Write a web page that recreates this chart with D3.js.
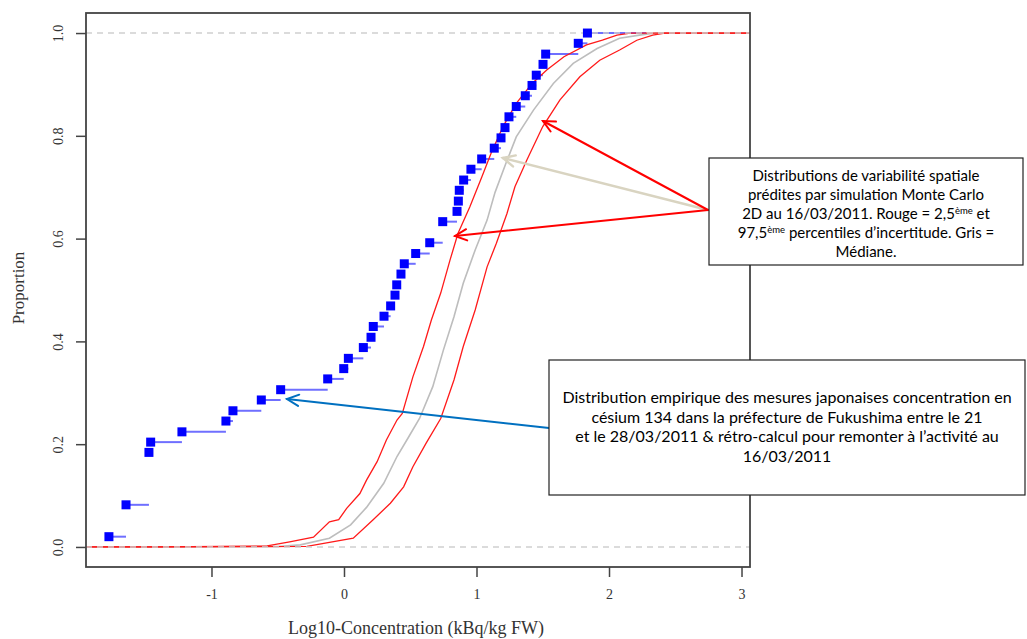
<!DOCTYPE html>
<html><head><meta charset="utf-8">
<script src="https://cdn.jsdelivr.net/npm/d3@7"></script>
<style>body{margin:0;background:#fff} svg{display:block}</style>
</head><body><svg id="c" width="1027" height="639"></svg>
<script>
// ---------- data ----------
const xTicks = [-1, 0, 1, 2, 3];
const xTickLabels = ["-1", "0", "1", "2", "3"];
const yTicks = [0, 0.2, 0.4, 0.6, 0.8, 1.0];
const yTickLabels = ["0.0", "0.2", "0.4", "0.6", "0.8", "1.0"];
const xTitle = "Log10-Concentration (kBq/kg FW)";
const yTitle = "Proportion";

// empirical ECDF (observed Japanese measurements)
const empX = [-1.774, -1.645, -1.472, -1.459, -1.223, -0.891, -0.838, -0.624, -0.478, -0.123,
              -0.002, 0.033, 0.146, 0.204, 0.221, 0.302, 0.352, 0.385, 0.398, 0.430,
              0.455, 0.541, 0.647, 0.745, 0.853, 0.863, 0.870, 0.903, 0.958, 1.039,
              1.134, 1.185, 1.215, 1.245, 1.300, 1.368, 1.419, 1.451, 1.502, 1.522,
              1.768, 1.837];
const empP = [0.020, 0.082, 0.184, 0.204, 0.224, 0.245, 0.265, 0.286, 0.306, 0.327,
              0.347, 0.367, 0.388, 0.408, 0.429, 0.449, 0.469, 0.490, 0.510, 0.531,
              0.551, 0.571, 0.592, 0.633, 0.653, 0.673, 0.694, 0.714, 0.735, 0.755,
              0.776, 0.796, 0.816, 0.837, 0.857, 0.878, 0.898, 0.918, 0.939, 0.959,
              0.980, 1.000];

// Monte Carlo 2D: 2.5th percentile (red, left)
const lowX = [-1.40, -0.58, -0.41, -0.23, -0.11, -0.04, 0.02, 0.12, 0.17, 0.25, 0.32, 0.40, 0.44,
              0.52, 0.60, 0.66, 0.73, 0.80, 0.86, 0.95, 1.04, 1.11, 1.20, 1.30, 1.42, 1.53,
              1.66, 1.83, 1.95, 2.06, 2.16];
const lowP = [0, 0.002, 0.010, 0.019, 0.049, 0.053, 0.075, 0.104, 0.130, 0.166, 0.208, 0.247, 0.260,
              0.331, 0.390, 0.442, 0.494, 0.558, 0.610, 0.662, 0.720, 0.766, 0.818, 0.863, 0.902, 0.928,
              0.954, 0.977, 0.986, 0.996, 1.0];
// median (grey)
const medX = [-1.40, -0.50, -0.33, -0.11, 0.05, 0.17, 0.30, 0.40, 0.49, 0.57, 0.67, 0.75, 0.83,
              0.90, 0.99, 1.08, 1.14, 1.22, 1.30, 1.43, 1.58, 1.73, 1.91, 2.08, 2.23, 2.35];
const medP = [0, 0.001, 0.004, 0.017, 0.043, 0.077, 0.124, 0.176, 0.215, 0.250, 0.312, 0.383, 0.448,
              0.513, 0.578, 0.636, 0.690, 0.745, 0.798, 0.850, 0.902, 0.941, 0.970, 0.990, 0.996, 1.0];
// 97.5th percentile (red, right)
const highX = [-1.40, -0.28, 0.07, 0.22, 0.35, 0.45, 0.52, 0.62, 0.73, 0.83, 0.90, 0.99, 1.08,
               1.15, 1.23, 1.29, 1.38, 1.50, 1.63, 1.78, 1.93, 2.08, 2.21, 2.33, 2.42];
const highP = [0, 0.001, 0.017, 0.053, 0.085, 0.117, 0.156, 0.202, 0.250, 0.325, 0.390, 0.461, 0.545,
               0.591, 0.649, 0.701, 0.753, 0.818, 0.870, 0.915, 0.947, 0.967, 0.986, 0.996, 1.0];

const noteSim = [
  ["Distributions de variabilité spatiale"],
  ["prédites par simulation Monte Carlo"],
  ["2D au 16/03/2011. Rouge = 2,5", {sup: "ème"}, " et"],
  ["97,5", {sup: "ème"}, " percentiles d’incertitude. Gris ="],
  ["Médiane."]
];
const noteEmp = [
  ["Distribution empirique des mesures japonaises concentration en"],
  ["césium 134 dans la préfecture de Fukushima entre le 21"],
  ["et le 28/03/2011 & rétro-calcul pour remonter à l’activité au"],
  ["16/03/2011"]
];

// ---------- drawing ----------
const svg = d3.select("#c");
const L = 86, R = 750, T = 13, B = 567;
const x = d3.scaleLinear().domain([-1.947, 3.064]).range([L, R]);
const y = d3.scaleLinear().domain([-0.039, 1.039]).range([B, T]);
const [xmin, xmax] = x.domain();

// ECDF horizontal segments
const seg = svg.append("g");
empX.forEach((v, i) => {
  const x2 = i < empX.length - 1 ? empX[i + 1] : 2.28;
  seg.append("line")
    .attr("x1", x(v)).attr("x2", x(x2))
    .attr("y1", y(empP[i])).attr("y2", y(empP[i]))
    .attr("stroke", "#6f6fff").attr("stroke-width", 2);
});

// simulated curves
const line = d3.line().x(d => x(d[0])).y(d => y(d[1]));
function curve(xs, ps, color, w) {
  const pts = [[xmin, 0]].concat(xs.map((v, i) => [v, ps[i]])).concat([[xmax, 1]]);
  svg.append("path").datum(pts).attr("d", line)
    .attr("fill", "none").attr("stroke", color).attr("stroke-width", w);
}
curve(medX, medP, "#bdbdbd", 1.6);
curve(lowX, lowP, "#ff1a1a", 1.3);
curve(highX, highP, "#ff1a1a", 1.3);

// reference dashed lines
[0, 1].forEach(v => {
  svg.append("line").attr("x1", L).attr("x2", R).attr("y1", y(v)).attr("y2", y(v))
    .attr("stroke", "#cfcfcf").attr("stroke-width", 1.5).attr("stroke-dasharray", "6,5");
});

// squares
svg.append("g").selectAll("rect").data(empX).join("rect")
  .attr("x", d => x(d) - 4.5).attr("y", (d, i) => y(empP[i]) - 4.5)
  .attr("width", 9).attr("height", 9).attr("fill", "#0000ff");

// frame
svg.append("rect").attr("x", L).attr("y", T).attr("width", R - L).attr("height", B - T)
  .attr("fill", "none").attr("stroke", "#444").attr("stroke-width", 1.8);

// axes
const xAxis = d3.axisBottom(x).tickValues(xTicks).tickSize(10).tickPadding(12)
  .tickFormat((d, i) => xTickLabels[i]);
const gx = svg.append("g").attr("transform", `translate(0,${B})`).call(xAxis);
gx.select(".domain").remove();
gx.selectAll("line").attr("stroke", "#444").attr("stroke-width", 1.5);
gx.selectAll("text").attr("font-family", "Liberation Serif").attr("font-size", 14).attr("fill", "#333");

const yAxis = d3.axisLeft(y).tickValues(yTicks).tickSize(10).tickFormat((d, i) => yTickLabels[i]);
const gy = svg.append("g").attr("transform", `translate(${L},0)`).call(yAxis);
gy.select(".domain").remove();
gy.selectAll("line").attr("stroke", "#444").attr("stroke-width", 1.5);
gy.selectAll("text").attr("font-family", "Liberation Serif").attr("font-size", 14).attr("fill", "#333")
  .attr("text-anchor", "middle").attr("x", 0).attr("dy", 0)
  .attr("transform", "translate(-23,0) rotate(-90)");

svg.append("text").attr("x", 416).attr("y", 634).attr("text-anchor", "middle")
  .attr("font-family", "Liberation Serif").attr("font-size", 18).attr("fill", "#333").text(xTitle);
svg.append("text").attr("transform", "translate(24,288) rotate(-90)").attr("text-anchor", "middle")
  .attr("font-family", "Liberation Serif").attr("font-size", 17).attr("fill", "#333").text(yTitle);

// arrows
function arrow(x1, y1, x2, y2, color, w) {
  const g = svg.append("g").attr("stroke", color).attr("stroke-width", w).attr("fill", "none")
    .attr("stroke-linecap", "round");
  g.append("line").attr("x1", x1).attr("y1", y1).attr("x2", x2).attr("y2", y2);
  const a = Math.atan2(y1 - y2, x1 - x2), len = 13, th = 0.45;
  g.append("path").attr("d",
    `M${x2 + len * Math.cos(a + th)},${y2 + len * Math.sin(a + th)} L${x2},${y2} L${x2 + len * Math.cos(a - th)},${y2 + len * Math.sin(a - th)}`);
}
arrow(708, 210, 503, 158, "#d9d4c1", 2.5);
arrow(708, 210, 543, 121, "#ff0000", 2);
arrow(708, 210, 455, 236, "#ff0000", 2);
arrow(549, 428, 287, 399, "#0070c0", 2);

// note boxes
function note(bx, by, bw, bh, lines, y0, dy, fs) {
  svg.append("rect").attr("x", bx).attr("y", by).attr("width", bw).attr("height", bh)
    .attr("fill", "#fff").attr("stroke", "#222").attr("stroke-width", 1.2);
  const cx = bx + bw / 2;
  lines.forEach((parts, i) => {
    const t = svg.append("text").attr("x", cx).attr("y", y0 + i * dy).attr("text-anchor", "middle")
      .attr("font-family", "Lato").attr("font-size", fs).attr("fill", "#000");
    let back = false;
    parts.forEach(p => {
      if (typeof p === "string") {
        const s = t.append("tspan").text(p);
        if (back) { s.attr("dy", 5); back = false; }
      } else {
        t.append("tspan").attr("dy", -5).attr("font-size", 9.5).text(p.sup);
        back = true;
      }
    });
  });
}
note(709, 158, 314, 107, noteSim, 181, 19, 15);
note(549, 360, 476, 135, noteEmp, 403, 19.5, 16);
</script></body></html>
